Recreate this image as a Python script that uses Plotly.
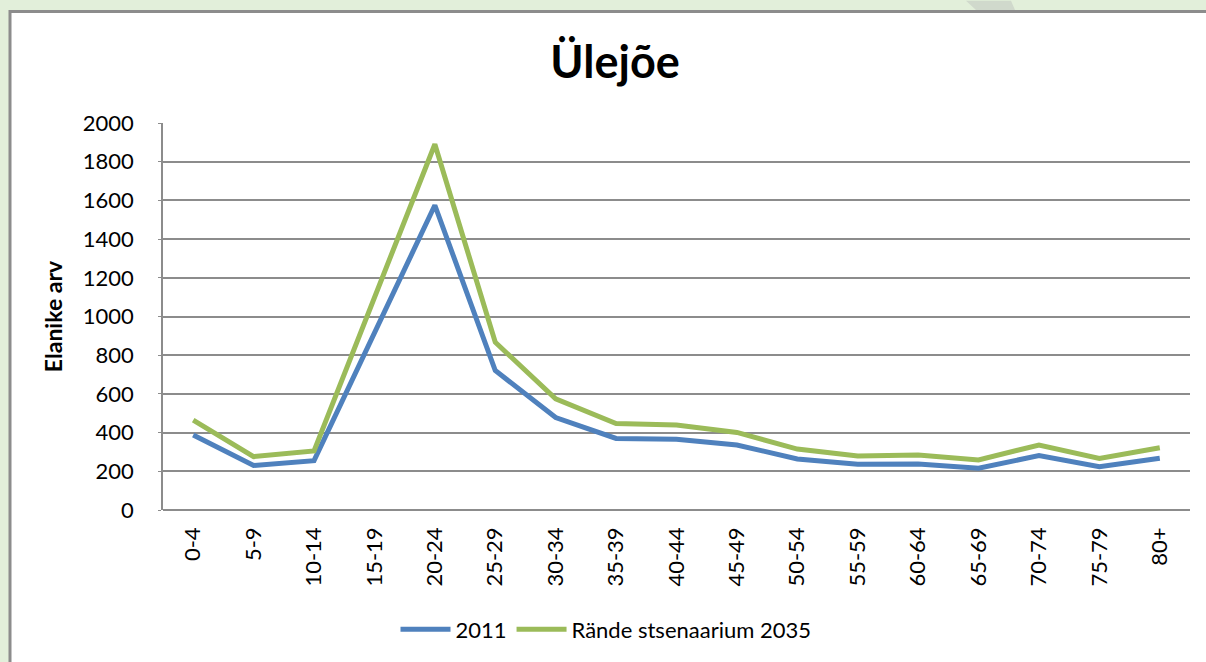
import plotly.graph_objects as go

categories = ["0-4", "5-9", "10-14", "15-19", "20-24", "25-29", "30-34", "35-39",
              "40-44", "45-49", "50-54", "55-59", "60-64", "65-69", "70-74", "75-79", "80+"]
values_2011 = [388, 230, 255, 920, 1575, 721, 478, 370, 365, 336, 264, 236, 238, 216, 281, 224, 267]
values_2035 = [464, 276, 305, 1100, 1890, 867, 574, 447, 439, 401, 315, 279, 284, 259, 336, 267, 322]
y_ticks = [0, 200, 400, 600, 800, 1000, 1200, 1400, 1600, 1800, 2000]

W, H = 1206, 662
ML, MR, MT, MB = 163, 16, 123, 150
PW = W - ML - MR
PH = H - MT - MB


def px(x):
    return (x - ML) / PW


def py(y):
    return (H - MB - y) / PH


FONT = "Lato, 'Open Sans', 'DejaVu Sans', sans-serif"
GRID = "#8C8C8C"

fig = go.Figure()
fig.add_trace(go.Scatter(x=categories, y=values_2011, mode="lines", name="2011",
                         line=dict(color="#4F81BD", width=5)))
fig.add_trace(go.Scatter(x=categories, y=values_2035, mode="lines", name="Rände stsenaarium 2035",
                         line=dict(color="#9BBB59", width=5)))

shapes = [
    dict(type="rect", xref="paper", yref="paper", layer="below",
         x0=px(10), x1=px(W + 10), y0=py(11), y1=py(H + 10),
         fillcolor="white", line=dict(color=GRID, width=3)),
    dict(type="path", xref="paper", yref="paper", layer="below",
         path=f"M {px(966)} {py(0)} L {px(1011)} {py(0)} L {px(1015)} {py(9.5)} L {px(976)} {py(9.5)} Z",
         fillcolor="#D0D9CC", line=dict(width=0)),
]

fig.update_layout(
    width=W, height=H,
    margin=dict(l=ML, r=MR, t=MT, b=MB),
    paper_bgcolor="#E2EFDA",
    plot_bgcolor="white",
    shapes=shapes,
    title=dict(text="<b>Ülejõe</b>", x=615 / W, xanchor="center", y=1 - 62 / H, yanchor="middle",
               font=dict(family=FONT, size=45, color="black")),
    font=dict(family=FONT, size=22, color="black"),
    showlegend=True,
    legend=dict(orientation="h", x=px(606), xanchor="center",
                y=py(632), yanchor="middle", font=dict(size=22, family=FONT),
                bgcolor="rgba(0,0,0,0)", itemwidth=50),
    xaxis=dict(type="category", range=[-0.5, 16.5], tickangle=-90, showgrid=False,
               showline=False, ticks="", ticklabelstandoff=12,
               tickfont=dict(size=22, family=FONT), fixedrange=True),
    yaxis=dict(range=[0, 2000], tickvals=y_ticks, showgrid=True, gridcolor=GRID, gridwidth=1.5,
               zeroline=True, zerolinecolor=GRID, zerolinewidth=1.5,
               showline=True, linecolor=GRID, linewidth=1.5,
               ticks="outside", ticklen=3, tickcolor=GRID, ticklabelstandoff=20,
               tickfont=dict(size=22, family=FONT), fixedrange=True,
               title=dict(text="<b>Elanike arv</b>", font=dict(size=23, family=FONT), standoff=14)),
)

fig.write_html("out.html", config={"displayModeBar": False},
               post_script="document.body.style.margin='0';")
